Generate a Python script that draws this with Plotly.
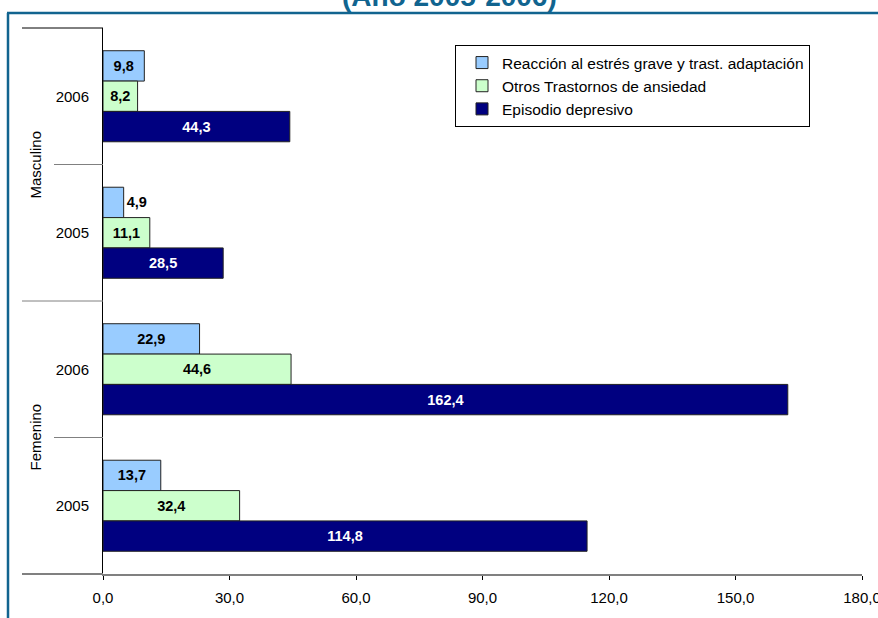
import plotly.graph_objects as go

# ---- data ----
groups = ["Masculino", "Masculino", "Femenino", "Femenino"]
years = ["2006", "2005", "2006", "2005"]
categories = [g + " " + y for g, y in zip(groups, years)]
reaccion = [9.8, 4.9, 22.9, 13.7]
otros = [8.2, 11.1, 44.6, 32.4]
episodio = [44.3, 28.5, 162.4, 114.8]
series_names = ["Reacción al estrés grave y trast. adaptación",
                "Otros Trastornos de ansiedad",
                "Episodio depresivo"]
x_ticks = [0, 30, 60, 90, 120, 150, 180]
title_text = "(Año 2005-2006)"

FONT = "Liberation Sans, Arial, sans-serif"
FRAME = "#11648F"

fig = go.Figure()
colors = ["#99CCFF", "#CCFFCC", "#000080"]
label_colors = ["black", "black", "white"]
for name, vals, c, lc in zip(series_names, [reaccion, otros, episodio], colors, label_colors):
    fig.add_trace(go.Bar(
        y=categories, x=vals, name=name, orientation="h",
        marker=dict(color=c, line=dict(color="#222222", width=1)),
        texttemplate="<b>%{x:.1f}</b>", textposition="auto",
        insidetextanchor="middle",
        insidetextfont=dict(family=FONT, size=14.5, color=lc),
        outsidetextfont=dict(family=FONT, size=14.5, color="black"),
        textfont=dict(family=FONT, size=14.5, color=lc),
        cliponaxis=False, hoverinfo="skip",
    ))

L, R, T, B = 103, 16, 28, 44
W, H = 878, 618
pw, ph = W - L - R, H - T - B

def px_x(p):
    return (p - L) / pw

def px_y(p):
    return (H - B - p) / ph

shapes = []
# divider lines of the category axis
n = len(categories)
for k in range(n + 1):
    yp = 1 - k / n
    long_line = (k % 2 == 0)
    x0 = px_x(22) if long_line else px_x(54)
    col = "black" if k == 0 else "#808080"
    w = 1 if k < n else 2
    shapes.append(dict(type="line", xref="paper", yref="paper", x0=x0, x1=0,
                       y0=yp, y1=yp, line=dict(color=col, width=w)))
# frame
shapes.append(dict(type="line", xref="paper", yref="paper", x0=px_x(7), x1=px_x(880),
                   y0=px_y(13), y1=px_y(13), line=dict(color=FRAME, width=2.5)))
shapes.append(dict(type="line", xref="paper", yref="paper", x0=px_x(8), x1=px_x(8),
                   y0=px_y(13), y1=px_y(620), line=dict(color=FRAME, width=2.5)))

annotations = []
for gi, g in enumerate(["Masculino", "Femenino"]):
    annotations.append(dict(text=g, xref="paper", yref="paper", x=px_x(35),
                            y=1 - (2 * gi + 1) / n, textangle=-90, showarrow=False,
                            font=dict(family=FONT, size=15, color="black"),
                            xanchor="center", yanchor="middle"))
annotations.append(dict(text="<b>" + title_text + "</b>", xref="paper", yref="paper",
                        x=px_x(449.5), y=px_y(-3), showarrow=False,
                        xanchor="center", yanchor="middle",
                        font=dict(family=FONT, size=28, color=FRAME)))

fig.update_layout(
    template="none",
    width=W, height=H,
    margin=dict(l=L, r=R, t=T, b=B, pad=0, autoexpand=False),
    paper_bgcolor="white", plot_bgcolor="white",
    barmode="group", bargap=0.333, bargroupgap=0,
    separators=",.",
    font=dict(family=FONT, size=15, color="black"),
    showlegend=True,
    legend=dict(x=px_x(455), y=px_y(45), xanchor="left", yanchor="top",
                bgcolor="white", bordercolor="black", borderwidth=1,
                font=dict(family=FONT, size=15.5, color="black"),
                indentation=6, entrywidth=330, entrywidthmode="pixels",
                traceorder="normal", tracegroupgap=0),
    xaxis=dict(range=[0, 180], tickvals=x_ticks, tickformat=".1f",
               automargin=False, ticklabeloverflow="allow",
               showgrid=False, zeroline=False,
               showline=True, linecolor="#808080", linewidth=2,
               ticks="outside", ticklen=4, tickcolor="black", tickwidth=1,
               tickfont=dict(family=FONT, size=15, color="black"),
               ticklabelstandoff=5),
    yaxis=dict(type="category", categoryorder="array", categoryarray=categories,
               autorange="reversed", tickvals=categories, ticktext=years,
               automargin=False,
               showgrid=False, zeroline=False, showline=True,
               linecolor="black", linewidth=1, ticks="",
               tickfont=dict(family=FONT, size=15, color="black"),
               ticklabelstandoff=10),
    shapes=shapes,
    annotations=annotations,
)

fig.write_html("out.html", config={"displayModeBar": False},
               post_script="document.body.style.margin='0';document.body.style.overflow='hidden';")
